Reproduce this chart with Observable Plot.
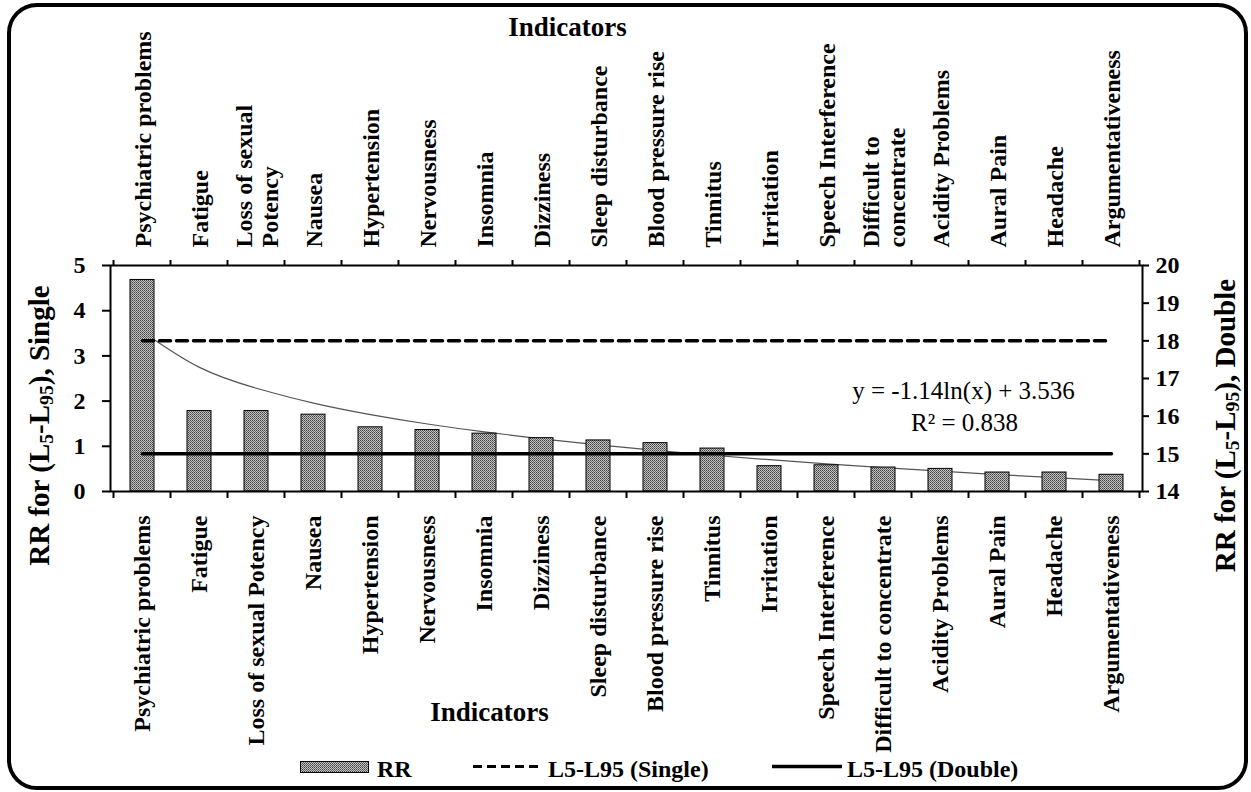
<!DOCTYPE html>
<html>
<head>
<meta charset="utf-8">
<script src="https://cdn.jsdelivr.net/npm/d3@7"></script>
<script src="https://cdn.jsdelivr.net/npm/@observablehq/plot@0.6"></script>
<style>
  html, body { margin: 0; padding: 0; background: #fff; overflow: hidden; }
  body { width: 1251px; height: 792px; position: relative; font-family: "Liberation Serif", "Times New Roman", serif; }
  #chart { position: absolute; left: 0; top: 0; }
  #legend { position: absolute; left: 0; top: 755px; }
  #chart svg text, #legend svg text { font-family: "Liberation Serif", "Times New Roman", serif !important; }
  #frame { position: absolute; left: 7px; top: 3px; width: 1241px; height: 787px; box-sizing: border-box;
           border: 4px solid #000; border-radius: 30px; z-index: 5; pointer-events: none; }
</style>
</head>
<body>
<div id="chart"></div>
<div id="legend"></div>
<div id="frame"></div>
<script>
// ---------- data ----------
const categories = [
  "Psychiatric problems", "Fatigue", "Loss of sexual Potency", "Nausea", "Hypertension",
  "Nervousness", "Insomnia", "Dizziness", "Sleep disturbance", "Blood pressure rise",
  "Tinnitus", "Irritation", "Speech Interference", "Difficult to concentrate",
  "Acidity Problems", "Aural Pain", "Headache", "Argumentativeness"
];
const topLabels = [
  "Psychiatric problems", "Fatigue", "Loss of sexual\nPotency", "Nausea", "Hypertension",
  "Nervousness", "Insomnia", "Dizziness", "Sleep disturbance", "Blood pressure rise",
  "Tinnitus", "Irritation", "Speech Interference", "Difficult to\nconcentrate",
  "Acidity Problems", "Aural Pain", "Headache", "Argumentativeness"
];
const rrValues = [4.68, 1.78, 1.78, 1.70, 1.42, 1.36, 1.28, 1.18, 1.13, 1.07, 0.95, 0.56, 0.58, 0.53, 0.50, 0.42, 0.42, 0.37];
const singleL5L95 = [18, 18, 18, 18, 18, 18, 18, 18, 18, 18, 18, 18, 18, 18, 18, 18, 18, 18];
const doubleL5L95 = [15, 15, 15, 15, 15, 15, 15, 15, 15, 15, 15, 15, 15, 15, 15, 15, 15, 15];
const trendCoef = [-1.14, 3.536];          // y = a ln(x) + b (logarithmic trendline of RR)
const trendText = ["y = -1.14ln(x) + 3.536", "R² = 0.838"];
const leftTicks = [0, 1, 2, 3, 4, 5];
const rightTicks = [14, 15, 16, 17, 18, 19, 20];
const leftDomain = [0, 5];
const rightDomain = [14, 20];

// ---------- helpers ----------
const serif = "Liberation Serif, Times New Roman, serif";
const toLeft = d3.scaleLinear().domain(rightDomain).range(leftDomain);
const data = categories.map((c, i) => ({
  cat: c,
  top: topLabels[i],
  rr: rrValues[i],
  single: toLeft(singleL5L95[i]),
  double: toLeft(doubleL5L95[i]),
  trend: trendCoef[0] * Math.log(i + 1) + trendCoef[1]
}));

// tick marks at the category boundaries, top and bottom
function bandTicks(index, scales, values, dimensions) {
  const x = scales.x;
  const dom = x.domain();
  const bw = typeof x.bandwidth === "function" ? x.bandwidth() : 0;
  const step = x(dom[1]) - x(dom[0]);
  const gap = (step - bw) / 2;
  const bounds = dom.map(c => x(c) - gap).concat([x(dom[dom.length - 1]) + bw + gap]);
  const top = dimensions.marginTop;
  const bottom = dimensions.height - dimensions.marginBottom;
  const g = d3.create("svg:g").attr("stroke", "#000").attr("stroke-width", 2);
  for (const b of bounds) {
    g.append("line").attr("x1", b).attr("x2", b).attr("y1", bottom).attr("y2", bottom + 7);
    g.append("line").attr("x1", b).attr("x2", b).attr("y1", top).attr("y2", top - 5);
  }
  return g.node();
}

const W = 1251, H = 755;
const chart = Plot.plot({
  width: W, height: H,
  marginLeft: 110, marginRight: 109, marginTop: 265, marginBottom: 264,
  style: { fontFamily: serif, background: "transparent", color: "#000", overflow: "visible" },
  x: { type: "band", domain: categories, paddingInner: 0.58, paddingOuter: 0.29, axis: null },
  y: { domain: leftDomain, axis: null },
  marks: [
    Plot.lineY(data, { x: "cat", y: "trend", stroke: "#555", strokeWidth: 1.2, curve: "natural" }),
    Plot.barY(data, { x: "cat", y: "rr", fill: "url(#rrdots)", stroke: "#000", strokeWidth: 1 }),
    Plot.lineY(data, { x: "cat", y: "double", stroke: "#000", strokeWidth: 3.5 }),
    Plot.lineY(data, { x: "cat", y: "single", stroke: "#000", strokeWidth: 3.5, strokeDasharray: "11,6" }),
    Plot.frame({ stroke: "#000", strokeWidth: 2 }),
    bandTicks,
    Plot.axisY({ anchor: "left", ticks: leftTicks, tickFormat: d => String(d), tickSize: 8, tickPadding: 17,
                 strokeWidth: 2, fontSize: 24, fontWeight: "bold", fontFamily: serif, label: null }),
    Plot.axisY({ anchor: "right", ticks: rightTicks.map(toLeft),
                 tickFormat: d => String(Math.round(toLeft.invert(d))),
                 tickSize: 6, tickPadding: 7, strokeWidth: 2, fontSize: 24, fontWeight: "bold",
                 fontFamily: serif, label: null }),
    // bottom category labels
    Plot.text(data, { x: "cat", text: "cat", frameAnchor: "bottom", dy: 24, rotate: -90,
                      textAnchor: "end", lineAnchor: "middle", fontSize: 24, fontWeight: "bold", fontFamily: serif }),
    // top category labels
    Plot.text(data, { x: "cat", text: "top", frameAnchor: "top", dy: -18, rotate: -90,
                      textAnchor: "start", lineAnchor: "middle", lineHeight: 1.1, fontSize: 24,
                      fontWeight: "bold", fontFamily: serif }),
    // axis titles
    Plot.text(["Indicators"], { frameAnchor: "top", dx: -59, dy: -230, textAnchor: "middle", lineAnchor: "bottom",
                                fontSize: 27, fontWeight: "bold", fontFamily: serif }),
    Plot.text(["Indicators"], { frameAnchor: "bottom", dx: -137, dy: 229, textAnchor: "middle", lineAnchor: "bottom",
                                fontSize: 27, fontWeight: "bold", fontFamily: serif }),
    Plot.text(["RR for (L5-L95), Single"], { frameAnchor: "left", dx: -71, dy: 47, rotate: -90,
                                             textAnchor: "middle", lineAnchor: "middle", fontSize: 29,
                                             fontWeight: "bold", fontFamily: serif }),
    Plot.text(["RR for (L5-L95), Double"], { frameAnchor: "right", dx: 83, dy: 47, rotate: -90,
                                             textAnchor: "middle", lineAnchor: "middle", fontSize: 29,
                                             fontWeight: "bold", fontFamily: serif }),
    // trendline equation
    Plot.text([trendText[0]], { frameAnchor: "top-right", dx: -179, dy: 133, textAnchor: "middle",
                                lineAnchor: "bottom", fontSize: 25, fontFamily: serif }),
    Plot.text([trendText[1]], { frameAnchor: "top-right", dx: -178, dy: 165, textAnchor: "middle",
                                lineAnchor: "bottom", fontSize: 25, fontFamily: serif })
  ]
});

// pattern fill for the bars
const svgSel = d3.select(chart);
function addPattern(defsSel, id) {
  const p = defsSel.append("pattern").attr("id", id).attr("width", 2).attr("height", 2)
    .attr("patternUnits", "userSpaceOnUse");
  p.append("rect").attr("width", 2).attr("height", 2).attr("fill", "#c4c4c4");
  p.append("rect").attr("width", 1).attr("height", 1).attr("fill", "#404040");
  p.append("rect").attr("x", 1).attr("y", 1).attr("width", 1).attr("height", 1).attr("fill", "#666");
}
addPattern(svgSel.insert("defs", ":first-child"), "rrdots");

// subscripts in the y titles
svgSel.selectAll("text").filter(function () {
  return /\(L\d+-L\d+\)/.test(this.textContent);
}).each(function () {
  const t = d3.select(this);
  const m = this.textContent.match(/^(.*\(L)(\d+)(-L)(\d+)(\).*)$/);
  if (!m) return;
  t.text(null);
  t.append("tspan").text(m[1]);
  t.append("tspan").attr("baseline-shift", "-18%").attr("font-size", "68%").text(m[2]);
  t.append("tspan").text(m[3]);
  t.append("tspan").attr("baseline-shift", "-18%").attr("font-size", "68%").text(m[4]);
  t.append("tspan").text(m[5]);
});

document.getElementById("chart").appendChild(chart);

// ---------- legend ----------
const legendItems = ["RR", "L5-L95 (Single)", "L5-L95 (Double)"];
const lg = d3.select("#legend").append("svg").attr("width", W).attr("height", 37)
  .style("display", "block").style("overflow", "visible")
  .attr("font-family", serif).attr("font-weight", "bold").attr("font-size", 24);
addPattern(lg.append("defs"), "rrdots2");
lg.append("rect").attr("x", 300.5).attr("y", 6.5).attr("width", 68).attr("height", 11)
  .attr("fill", "url(#rrdots2)").attr("stroke", "#000").attr("stroke-width", 1);
lg.append("text").attr("x", 377).attr("y", 22).text(legendItems[0]);
lg.append("line").attr("x1", 473).attr("x2", 542).attr("y1", 11.5).attr("y2", 11.5)
  .attr("stroke", "#000").attr("stroke-width", 3).attr("stroke-dasharray", "9,5");
lg.append("text").attr("x", 548).attr("y", 22).text(legendItems[1]);
lg.append("line").attr("x1", 772).attr("x2", 842).attr("y1", 11.5).attr("y2", 11.5)
  .attr("stroke", "#000").attr("stroke-width", 3.5);
lg.append("text").attr("x", 847).attr("y", 22).text(legendItems[2]);
</script>
</body>
</html>
